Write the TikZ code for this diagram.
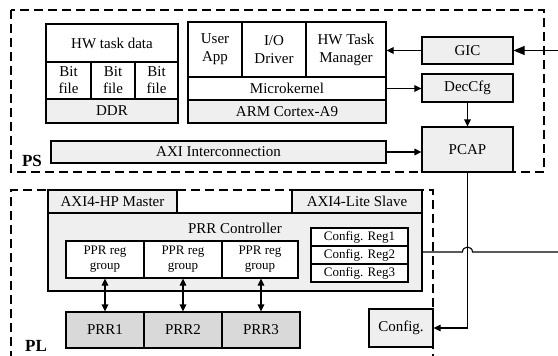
\documentclass[tikz,border=0pt]{standalone}
\usepackage{fontspec}
\setmainfont{Liberation Serif}
\usetikzlibrary{arrows.meta,backgrounds}
\definecolor{lg}{HTML}{EFEFEF}
\definecolor{dg}{HTML}{D9D9D9}
\tikzset{
  blk/.style={draw, line width=1.1pt, inner sep=0pt, align=center, font=\fontsize{15}{18}\selectfont},
  wbox/.style={blk, fill=white},
  gbox/.style={blk, fill=lg},
  dbox/.style={blk, fill=dg},
  smallt/.style={font=\fontsize{13}{15}\selectfont},
  region/.style={line width=1.3pt, dash pattern=on 9pt off 5pt},
  conn/.style={line width=1.1pt, -{Triangle[length=7pt,width=6.5pt]}},
  biconn/.style={line width=1.1pt, {Triangle[length=7pt,width=6.5pt]}-{Triangle[length=7pt,width=6.5pt]}},
  bigconn/.style={line width=1.1pt, -{Triangle[length=11pt,width=9pt]}},
  lab/.style={font=\fontsize{17}{17}\selectfont\bfseries, inner sep=0pt}
}
\begin{document}
\begin{tikzpicture}[x=1pt,y=-1pt]
\useasboundingbox (0,0) rectangle (558,356);
\fill[white] (0,0) rectangle (558,356);
% regions
\draw[region] (11,10) rectangle (544,172);
\draw[region] (11,360) -- (11,190) -- (433,190) -- (433,360);
\node[lab] (ps) at (32,161) {PS};
\node[lab] (pl) at (36,346) {PL};
% PS blocks
\node[wbox, minimum width=132, minimum height=38] (hwdata) at (112,43) {HW task data};
\node[wbox, minimum width=45, minimum height=37, font=\fontsize{15}{17}\selectfont] (bit1) at (68.5,80.5) {Bit\\file};
\node[wbox, minimum width=44, minimum height=37, font=\fontsize{15}{17}\selectfont] (bit2) at (113,80.5) {Bit\\file};
\node[wbox, minimum width=43, minimum height=37, font=\fontsize{15}{17}\selectfont] (bit3) at (156.5,80.5) {Bit\\file};
\node[gbox, minimum width=132, minimum height=24] (ddr) at (112,111) {DDR};
\node[wbox, minimum width=54, minimum height=55] (userapp) at (215,49.5) {User\\App};
\node[wbox, minimum width=64, minimum height=55] (iodrv) at (274,49.5) {I/O\\Driver};
\node[wbox, minimum width=80, minimum height=55] (hwtm) at (346,49.5) {HW Task\\Manager};
\node[wbox, minimum width=198, minimum height=23] (micro) at (287,88.5) {Microkernel};
\node[gbox, minimum width=198, minimum height=23] (arm) at (287,111.5) {ARM Cortex-A9};
\node[gbox, minimum width=335, minimum height=22] (axi) at (218.5,152) {AXI Interconnection};
\node[gbox, minimum width=91, minimum height=27] (gic) at (467.5,50.5) {GIC};
\node[gbox, minimum width=91, minimum height=28] (deccfg) at (467.5,88) {DecCfg};
\node[gbox, minimum width=91, minimum height=45] (pcap) at (467.5,149.5) {PCAP};
% PL blocks
\node[gbox, minimum width=374, minimum height=78] (prrc) at (235,252) {};
\node[blk, draw=none] (prrclabel) at (235,228) {PRR Controller};
\node[gbox, minimum width=129, minimum height=23] (axihp) at (112.5,201.5) {AXI4-HP Master};
\node[gbox, minimum width=130, minimum height=23] (axilite) at (357,201.5) {AXI4-Lite Slave};
\node[wbox, smallt, minimum width=78, minimum height=37] (ppr1) at (105,259.5) {PPR reg\\group};
\node[wbox, smallt, minimum width=78, minimum height=37] (ppr2) at (183,259.5) {PPR reg\\group};
\node[wbox, smallt, minimum width=76, minimum height=37] (ppr3) at (260,259.5) {PPR reg\\group};
\node[wbox, smallt, minimum width=97, minimum height=18] (creg1) at (359.5,237) {Config. Reg1};
\node[wbox, smallt, minimum width=97, minimum height=18] (creg2) at (359.5,255) {Config. Reg2};
\node[wbox, smallt, minimum width=97, minimum height=18] (creg3) at (359.5,273) {Config. Reg3};
\node[dbox, minimum width=78, minimum height=36] (prr1) at (105,330) {PRR1};
\node[dbox, minimum width=78, minimum height=36] (prr2) at (183,330) {PRR2};
\node[dbox, minimum width=78, minimum height=36] (prr3) at (261,330) {PRR3};
\node[gbox, minimum width=64, minimum height=38] (config) at (401,328) {Config.};
\coordinate (gicin) at (558,50.5);
\coordinate (prrout) at (558,252);
% connectors
\begin{scope}[on background layer]
\draw[biconn] (ddr.south) -- (ddr.south |- axihp.north);
\draw[biconn] (arm.south -| axilite.north) -- (axilite.north);
\end{scope}
\draw[conn] (gic.west) -- (gic.west -| hwtm.east);
\draw[bigconn] (gicin) -- (gic.east);
\draw[conn] (micro.east) -- (micro.east -| deccfg.west);
\draw[conn] (deccfg.south) -- (pcap.north);
\draw[conn] (axi.east) -- (axi.east -| pcap.west);
\draw[conn] (pcap.south) |- (config.east);
\draw[line width=1.1pt] (prrc.east) -- ([xshift=-5pt]prrc.east -| pcap.south) .. controls +(0,-6.5) and +(0,-6.5) .. ([xshift=5pt]prrc.east -| pcap.south) -- (prrout);
\draw[biconn] (ppr1.south) -- (ppr1.south |- prr1.north);
\draw[biconn] (ppr2.south) -- (ppr2.south |- prr2.north);
\draw[biconn] (ppr3.south -| prr3.north) -- (prr3.north);
\end{tikzpicture}
\end{document}
